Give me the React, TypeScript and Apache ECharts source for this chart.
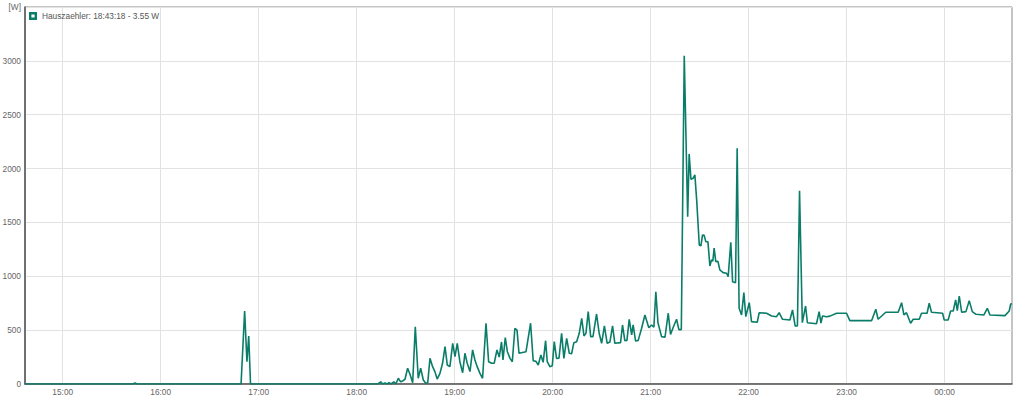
import React, { useEffect, useRef } from "react";
import * as echarts from "echarts";

const seriesName = "Hauszaehler";
const legendSuffix = ": 18:43:18 - 3.55 W";
const yUnitLabel = "[W]";
const yMax = 3500;
const yStep = 500;
// x values are minutes since midnight of the first day (00:00 next day = 1440)
const xStart = 876.9;
const xEnd = 1481.3;
const hourTicks = [900, 960, 1020, 1080, 1140, 1200, 1260, 1320, 1380, 1440];

const times = [
  876.9, 943.0, 944.3, 945.5, 1009.2, 1011.4, 1012.8, 1013.9, 1015.0, 1093.0,
  1094.7, 1095.9, 1097.3, 1098.5, 1099.8, 1101.0, 1102.8, 1104.0, 1105.5, 1106.9,
  1108.2, 1109.6, 1111.2, 1112.6, 1114.3, 1115.9, 1117.7, 1119.2, 1120.8, 1122.2,
  1123.5, 1124.9, 1126.5, 1127.9, 1129.3, 1131.0, 1132.6, 1134.1, 1135.5, 1137.1,
  1138.8, 1140.2, 1141.6, 1143.2, 1144.9, 1146.3, 1147.7, 1149.4, 1151.0, 1152.4,
  1153.8, 1155.5, 1157.1, 1159.2, 1160.8, 1162.7, 1164.2, 1165.9, 1167.3, 1168.7,
  1169.6, 1171.0, 1172.3, 1173.9, 1175.3, 1176.9, 1178.2, 1179.4, 1183.7, 1186.5,
  1188.1, 1189.8, 1191.2, 1192.8, 1194.2, 1195.7, 1196.7, 1198.3, 1199.8, 1201.0,
  1202.4, 1203.9, 1205.5, 1206.9, 1208.6, 1210.2, 1211.6, 1213.0, 1214.7, 1216.3,
  1217.8, 1219.2, 1220.4, 1221.8, 1223.3, 1224.7, 1226.9, 1228.5, 1230.0, 1231.7,
  1233.4, 1235.1, 1236.7, 1238.1, 1241.6, 1242.8, 1244.2, 1245.5, 1246.9, 1248.4,
  1249.3, 1250.8, 1252.4, 1254.5, 1256.5, 1258.9, 1260.6, 1262.0, 1263.2, 1264.5,
  1266.7, 1268.8, 1270.8, 1272.2, 1273.8, 1275.9, 1277.3, 1278.8, 1280.6, 1282.7,
  1283.6, 1284.7, 1286.1, 1287.1, 1288.2, 1289.8, 1290.8, 1291.8, 1292.8, 1293.8,
  1295.1, 1296.3, 1297.3, 1298.1, 1298.9, 1299.9, 1301.2, 1302.4, 1304.4, 1306.5,
  1307.5, 1309.1, 1310.2, 1312.0, 1313.0, 1314.2, 1315.7, 1317.1, 1318.3, 1320.4,
  1321.8, 1325.3, 1326.5, 1331.0, 1334.1, 1337.1, 1338.7, 1340.8, 1345.3, 1346.9,
  1348.5, 1349.9, 1351.2, 1352.9, 1354.9, 1356.0, 1361.6, 1363.2, 1364.3, 1365.3,
  1367.8, 1369.8, 1373.9, 1380.0, 1382.0, 1395.3, 1397.9, 1399.3, 1404.0, 1411.6,
  1413.7, 1415.1, 1416.7, 1419.2, 1420.8, 1424.5, 1425.9, 1429.3, 1430.6, 1432.0,
  1438.8, 1439.8, 1442.2, 1443.7, 1445.3, 1446.8, 1447.8, 1449.0, 1450.5, 1453.1,
  1455.1, 1457.0, 1459.3, 1464.1, 1466.2, 1467.8, 1477.0, 1479.6, 1480.5, 1481.3,
];

const watts = [
  0, 0, 10, 0, 0, 678, 207, 446, 0, 0,
  20, 0, 10, 0, 12, 0, 20, 0, 53, 20,
  28, 44, 146, 93, 12, 532, 53, 146, 37, 9,
  9, 238, 161, 115, 46, 99, 192, 347, 176, 161,
  378, 254, 378, 207, 105, 285, 192, 115, 316, 223,
  161, 99, 53, 564, 207, 192, 192, 316, 250, 390,
  223, 430, 300, 238, 207, 517, 500, 285, 300, 564,
  216, 210, 176, 269, 201, 402, 207, 161, 170, 393,
  238, 240, 471, 238, 424, 285, 280, 384, 393, 471,
  610, 446, 470, 672, 440, 440, 650, 471, 378, 540,
  378, 390, 539, 378, 384, 548, 402, 405, 601, 455,
  548, 399, 405, 517, 641, 523, 548, 527, 857, 569,
  440, 434, 657, 460, 525, 601, 505, 505, 3047, 1554,
  2136, 1901, 1911, 1941, 1709, 1291, 1282, 1384, 1380, 1322,
  1320, 1096, 1152, 1140, 1261, 1136, 1140, 1059, 1034, 1028,
  997, 1316, 950, 941, 2189, 703, 641, 848, 625, 755,
  579, 573, 662, 657, 632, 625, 662, 601, 594, 687,
  539, 540, 1795, 569, 724, 569, 560, 672, 566, 632,
  625, 630, 657, 657, 588, 588, 694, 601, 666, 666,
  755, 641, 662, 564, 601, 601, 657, 657, 750, 666,
  657, 594, 594, 678, 678, 780, 680, 817, 666, 672,
  774, 672, 647, 641, 703, 641, 635, 678, 743, 745,
];

const lineColor = "#0a7d69";

function hhmm(v: number): string {
  const h = Math.floor(Math.round(v) / 60) % 24;
  const m = Math.round(v) % 60;
  return String(h).padStart(2, "0") + ":" + String(m).padStart(2, "0");
}

export default function App() {
  const ref = useRef<HTMLDivElement>(null);
  useEffect(() => {
    if (!ref.current) return;
    const chart = echarts.init(ref.current, undefined, { renderer: "svg" });
    const data = times.map((t, i) => [t, watts[i]]);
    chart.setOption({
      animation: false,
      backgroundColor: "#ffffff",
      textStyle: { fontFamily: "Liberation Sans, Arial, sans-serif" },
      grid: {
        left: 25,
        right: 12,
        top: 7,
        bottom: 15,
        show: true,
        borderColor: "#8a8a8a",
        borderWidth: 1,
        backgroundColor: "transparent",
        outerBoundsMode: "none",
      },
      legend: {
        left: 24,
        top: 7,
        itemWidth: 8,
        itemHeight: 8,
        icon: "path://M0,0H10V10H0Z M3,3V7H7V3Z",
        data: [seriesName],
        formatter: (n: string) => n + legendSuffix,
        textStyle: { fontSize: 8.3, color: "#555555", padding: [0, 0, 0, 0] },
        selectedMode: false,
      },
      xAxis: {
        type: "value",
        min: xStart,
        max: xEnd,
        axisLine: { show: true, onZero: false, lineStyle: { color: "#555555", width: 1.5 } },
        axisTick: { show: false, customValues: hourTicks },
        axisLabel: {
          customValues: hourTicks,
          formatter: (v: number) => hhmm(v),
          color: "#666666",
          fontSize: 8.3,
          margin: 4,
        },
        splitLine: { show: true, lineStyle: { color: "#e2e2e2", width: 1 } },
      },
      yAxis: {
        type: "value",
        min: 0,
        max: yMax,
        interval: yStep,
        axisLine: { show: true, lineStyle: { color: "#555555", width: 1.5 } },
        axisTick: { show: false },
        axisLabel: {
          formatter: (v: number) => (v === yMax ? yUnitLabel : String(v)),
          color: "#666666",
          fontSize: 8.3,
          margin: 4,
        },
        splitLine: { show: true, lineStyle: { color: "#e2e2e2", width: 1 } },
      },
      series: [
        {
          name: seriesName,
          type: "line",
          data,
          showSymbol: false,
          symbol: "none",
          color: lineColor,
          lineStyle: { color: lineColor, width: 1.6 },
        },
      ],
    });
    return () => chart.dispose();
  }, []);
  return (
    <div
      ref={ref}
      style={{ position: "fixed", left: 0, top: 0, width: 1024, height: 399 }}
    />
  );
}
